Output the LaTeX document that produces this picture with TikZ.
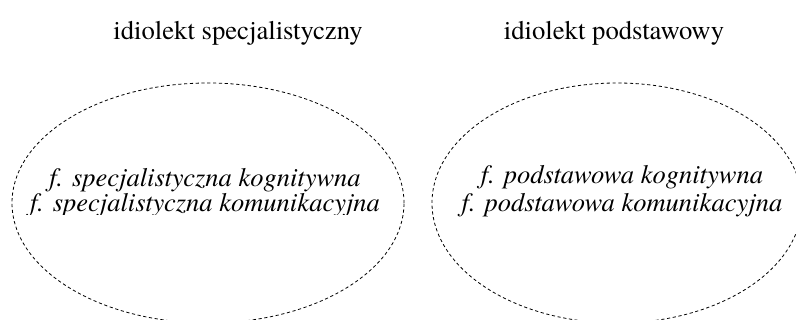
\documentclass[tikz,border=0pt]{standalone}
\usepackage{fontspec}
\setmainfont{texgyretermes}[
  Extension=.otf,
  UprightFont=*-regular,
  ItalicFont=*-italic,
  BoldFont=*-bold,
  BoldItalicFont=*-bolditalic]
\usetikzlibrary{shapes.geometric}
\tikzset{
  sphere/.style={ellipse, draw, line width=0.8pt,
    dash pattern=on 3.2pt off 2.6pt, inner sep=0pt},
  heading/.style={anchor=base, font=\fontsize{26.7}{30}\selectfont},
  roles/.style={align=center, inner sep=0pt,
    font=\fontsize{26.5}{#1}\selectfont\itshape},
  roles/.default=25
}
\begin{document}
\begin{tikzpicture}[x=1pt, y=1pt]
  \useasboundingbox (0,0) rectangle (796,320);
  \clip (0,0) rectangle (796,320);

  % headings
  \node[heading] (hs) at (238,280) {idiolekt specjalistyczny};
  \node[heading] (hp) at (614,280) {idiolekt podstawowy};

  % the two idiolect domains
  \node[sphere, minimum width=392, minimum height=240] (es) at (208,117) {};
  \node[sphere, minimum width=370, minimum height=240] (ep) at (617,117) {};

  % functions of the specialist idiolect (lower line cut at its baseline box)
  \begin{scope}
    \clip (0,105) rectangle (410,320);
    \node[roles=25] (fs) at (205,127) {f. specjalistyczna kognitywna\\f. specjalistyczna komunikacyjna};
  \end{scope}

  % functions of the basic idiolect
  \node[roles=28] (fp) at (622,129) {f. podstawowa kognitywna\\f. podstawowa komunikacyjna};
\end{tikzpicture}
\end{document}
